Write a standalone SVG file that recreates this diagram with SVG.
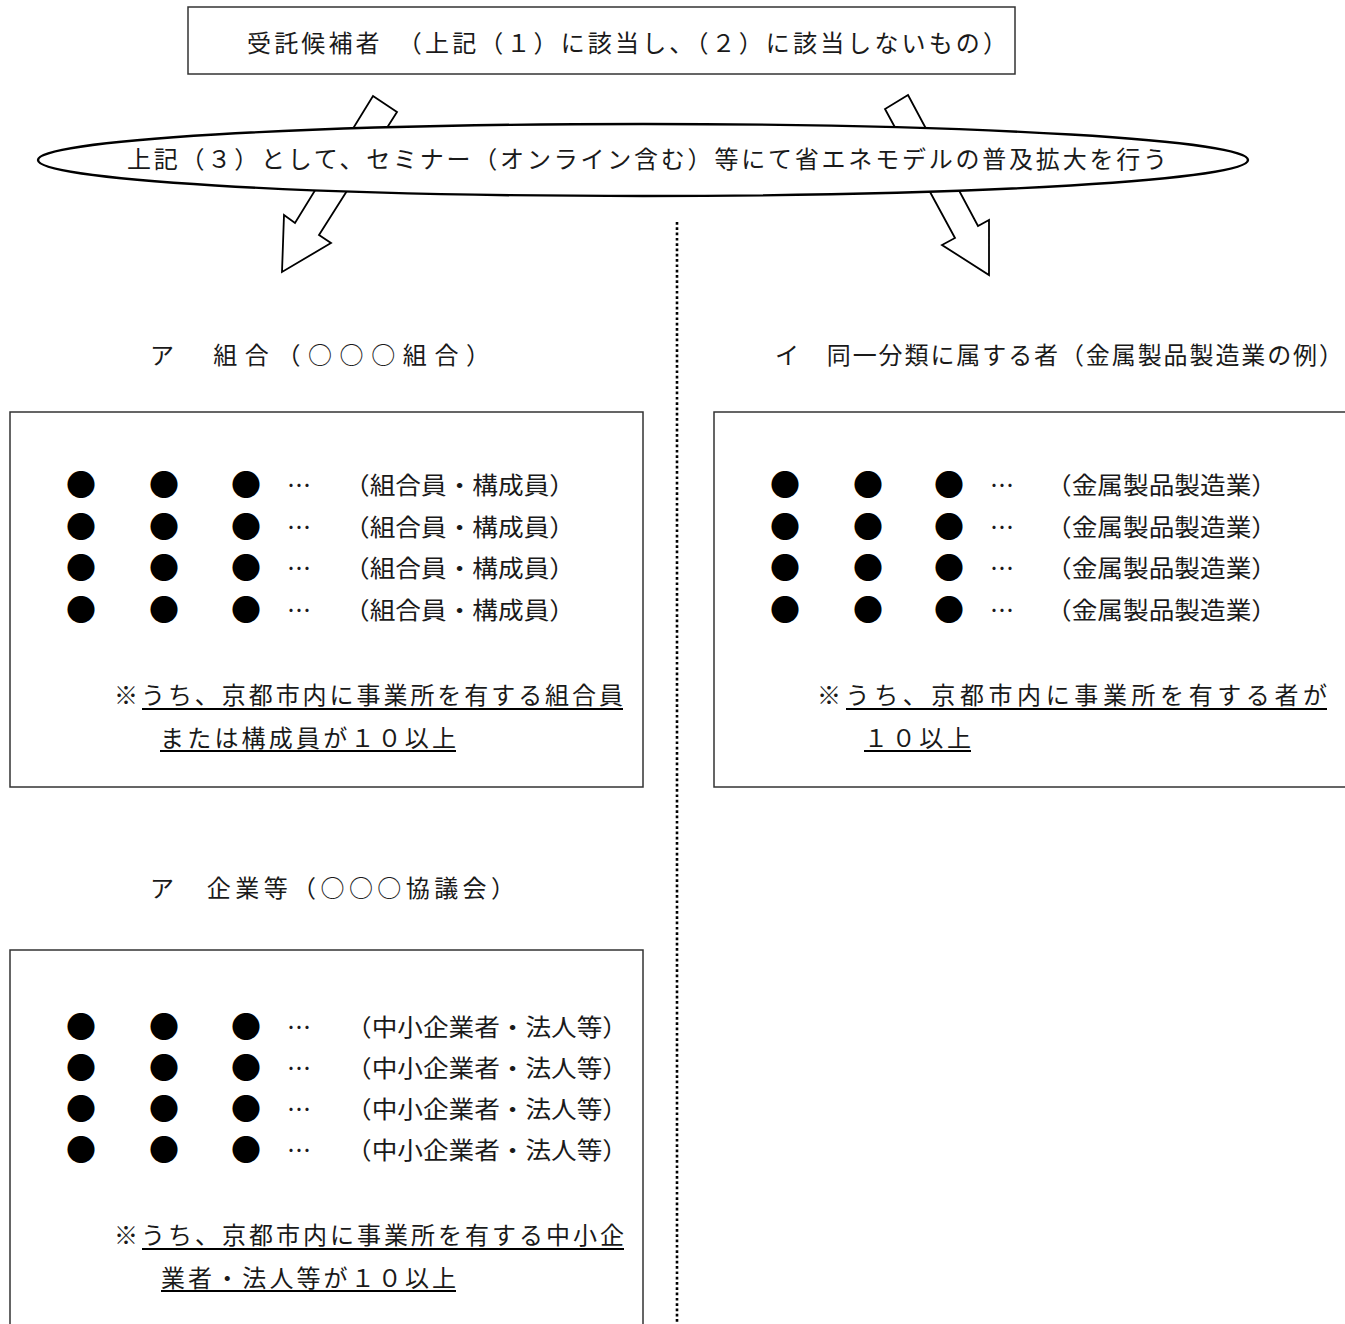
<svg xmlns="http://www.w3.org/2000/svg" width="1345" height="1324" viewBox="0 0 1345 1324">
<style>
text { font-family: "Noto Sans CJK JP", "Noto Sans CJK SC", sans-serif; font-size: 24px; fill: #1a1a1a; }
.dot { font-size: 30px; fill: #000; }
.box { fill: #fff; stroke: #333; stroke-width: 1.5; }
.arrow { fill: #fff; stroke: #000; stroke-width: 1.8; stroke-linejoin: miter; }
.ul { stroke: #000; stroke-width: 1.8; }
.sep { stroke: #000; stroke-width: 2.6; stroke-dasharray: 2.7 2.6; fill: none; }
</style>
<rect width="1345" height="1324" fill="#fff"/>

<g id="connectors">
  <polygon class="arrow" points="373,96 397,112 319,235 331,243 282,272 284,215 295,223"/>
  <polygon class="arrow" points="908,95 978,226 989,220 989,275 942,245 955,238 885,109"/>
  <line class="sep" x1="677" y1="222" x2="677" y2="1324"/>
</g>

<g id="candidate">
  <rect class="box" x="188" y="7" width="827" height="67"/>
  <text x="247" y="52" textLength="760" lengthAdjust="spacing">受託候補者　（上記（１）に該当し、（２）に該当しないもの）</text>
</g>

<g id="seminar">
  <ellipse cx="643" cy="160" rx="605" ry="36" fill="#fff" stroke="#000" stroke-width="2.4"/>
  <text x="127" y="168" textLength="1040" lengthAdjust="spacing">上記（３）として、セミナー（オンライン含む）等にて省エネモデルの普及拡大を行う</text>
</g>

<g id="kumiai">
  <text x="150" y="364" textLength="340" lengthAdjust="spacing">ア　組合（○○○組合）</text>
  <rect class="box" x="10" y="412" width="633" height="375"/>
  <text class="dot" x="66 149 231" y="496">●●●</text>
  <text x="287" y="494">…</text>
  <text x="344" y="494" textLength="231" lengthAdjust="spacingAndGlyphs">（組合員・構成員）</text>
  <text class="dot" x="66 149 231" y="538">●●●</text>
  <text x="287" y="536">…</text>
  <text x="344" y="536" textLength="231" lengthAdjust="spacingAndGlyphs">（組合員・構成員）</text>
  <text class="dot" x="66 149 231" y="579">●●●</text>
  <text x="287" y="577">…</text>
  <text x="344" y="577" textLength="231" lengthAdjust="spacingAndGlyphs">（組合員・構成員）</text>
  <text class="dot" x="66 149 231" y="621">●●●</text>
  <text x="287" y="619">…</text>
  <text x="344" y="619" textLength="231" lengthAdjust="spacingAndGlyphs">（組合員・構成員）</text>
  <text x="114" y="704" textLength="509" lengthAdjust="spacing">※うち、京都市内に事業所を有する組合員</text>
  <line class="ul" x1="142" y1="709" x2="623" y2="709"/>
  <text x="160" y="747" textLength="296" lengthAdjust="spacing">または構成員が１０以上</text>
  <line class="ul" x1="160" y1="751" x2="456" y2="751"/>
</g>

<g id="gyoshu">
  <text x="775" y="364" textLength="568" lengthAdjust="spacing">イ　同一分類に属する者（金属製品製造業の例）</text>
  <rect class="box" x="714" y="412" width="640" height="375"/>
  <text class="dot" x="770 853 934" y="496">●●●</text>
  <text x="990" y="494">…</text>
  <text x="1046" y="494" textLength="231" lengthAdjust="spacingAndGlyphs">（金属製品製造業）</text>
  <text class="dot" x="770 853 934" y="538">●●●</text>
  <text x="990" y="536">…</text>
  <text x="1046" y="536" textLength="231" lengthAdjust="spacingAndGlyphs">（金属製品製造業）</text>
  <text class="dot" x="770 853 934" y="579">●●●</text>
  <text x="990" y="577">…</text>
  <text x="1046" y="577" textLength="231" lengthAdjust="spacingAndGlyphs">（金属製品製造業）</text>
  <text class="dot" x="770 853 934" y="621">●●●</text>
  <text x="990" y="619">…</text>
  <text x="1046" y="619" textLength="231" lengthAdjust="spacingAndGlyphs">（金属製品製造業）</text>
  <text x="817" y="704" textLength="510" lengthAdjust="spacing">※うち、京都市内に事業所を有する者が</text>
  <line class="ul" x1="846" y1="709" x2="1327" y2="709"/>
  <text x="864" y="747" textLength="107" lengthAdjust="spacing">１０以上</text>
  <line class="ul" x1="864" y1="751" x2="971" y2="751"/>
</g>

<g id="kigyo">
  <text x="150" y="897" textLength="365" lengthAdjust="spacing">ア　企業等（○○○協議会）</text>
  <rect class="box" x="10" y="950" width="633" height="400"/>
  <text class="dot" x="66 149 231" y="1038">●●●</text>
  <text x="287" y="1036">…</text>
  <text x="346" y="1036" textLength="282" lengthAdjust="spacingAndGlyphs">（中小企業者・法人等）</text>
  <text class="dot" x="66 149 231" y="1079">●●●</text>
  <text x="287" y="1077">…</text>
  <text x="346" y="1077" textLength="282" lengthAdjust="spacingAndGlyphs">（中小企業者・法人等）</text>
  <text class="dot" x="66 149 231" y="1120">●●●</text>
  <text x="287" y="1118">…</text>
  <text x="346" y="1118" textLength="282" lengthAdjust="spacingAndGlyphs">（中小企業者・法人等）</text>
  <text class="dot" x="66 149 231" y="1161">●●●</text>
  <text x="287" y="1159">…</text>
  <text x="346" y="1159" textLength="282" lengthAdjust="spacingAndGlyphs">（中小企業者・法人等）</text>
  <text x="114" y="1244" textLength="510" lengthAdjust="spacing">※うち、京都市内に事業所を有する中小企</text>
  <line class="ul" x1="142" y1="1249" x2="624" y2="1249"/>
  <text x="161" y="1287" textLength="295" lengthAdjust="spacing">業者・法人等が１０以上</text>
  <line class="ul" x1="161" y1="1291" x2="456" y2="1291"/>
</g>
</svg>
